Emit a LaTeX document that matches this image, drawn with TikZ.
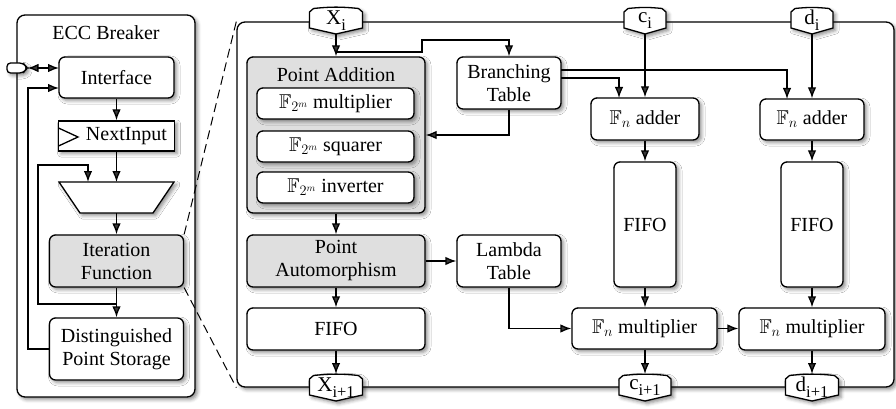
\documentclass[tikz,border=0pt]{standalone}
\usepackage{amssymb}
\usepackage{fontspec}
\setmainfont{Liberation Serif}
\usetikzlibrary{arrows.meta,shadows.blur}

\definecolor{boxgray}{gray}{0.875}

% lowered index for port labels
\newcommand\lowidx[1]{\raisebox{-0.6ex}{\fontsize{16.5}{16.5}\selectfont #1}}

% port: name, x, top y, half width, label
\newcommand\portshape[5]{%
  \draw[portline] ({#2-#4},{#3+21}) -- ({#2-#4},{#3+5}) -- ({#2-#4+4},{#3+1.5})
    to[bend left=6] ({#2+#4-4},{#3+1.5}) -- ({#2+#4},{#3+5}) -- ({#2+#4},{#3+21})
    -- (#2,{#3+27}) -- cycle;
  \node[inner sep=0pt,font=\fontsize{21}{22}\selectfont] (#1) at (#2,{#3+13.5}) {#5};
  \coordinate (#1-tip) at (#2,{#3+27});
  \coordinate (#1-top) at (#2,{#3});
}

\tikzset{
  >={Latex[length=11pt,width=8.5pt]},
  wire/.style={line width=1.3pt,->},
  shade3/.style={blur shadow={shadow xshift=2.5pt,shadow yshift=-2.5pt,
      shadow blur radius=3.5pt,shadow opacity=45}},
  box/.style={draw,line width=1.3pt,rounded corners=6pt,fill=white,shade3,
      inner sep=0pt,align=center},
  gbox/.style={box,fill=boxgray},
  sqbox/.style={box,rounded corners=0pt},
  panel/.style={draw,line width=1.3pt,rounded corners=8pt,fill=white,shade3,inner sep=0pt},
  portline/.style={draw,line width=1.3pt,fill=white,shade3},
  dashline/.style={line width=1pt,dash pattern=on 9pt off 5pt},
}

\begin{document}
\begin{tikzpicture}[x=1pt,y=-1pt,font=\fontsize{20}{23}\selectfont]
\useasboundingbox (0,0) rectangle (896,409);

% ---------------- ECC Breaker ----------------
\node[panel,minimum width=178pt,minimum height=382pt] (ecc) at (106,206) {};
\node (ecctitle) at (106,33) {ECC Breaker};

\node[box,minimum width=115pt,minimum height=41pt] (iface) at (116.5,77.5) {Interface};
\node[sqbox,minimum width=116pt,minimum height=30pt] (nxt) at (116.5,136) {};
\node[inner sep=0pt] (nxtlabel) at (126.5,136) {NextInput};
\draw[line width=1.3pt] (58.5,128) -- (78,137) -- (58.5,146);

\draw[line width=1.3pt,fill=white,shade3] (59,182) -- (174,182) -- (153,213) -- (80,213) -- cycle;
\coordinate (mux) at (116.5,197);
\coordinate (muxtopR) at (116.5,182);
\coordinate (muxtopL) at (88,182);
\coordinate (muxbot) at (116.5,213);

\node[gbox,minimum width=134pt,minimum height=52pt] (itf) at (116.5,261) {Iteration\\Function};
\node[box,minimum width=134pt,minimum height=62pt] (dps) at (116.5,349) {Distinguished\\Point Storage};

% host port
\draw[line width=1.3pt,fill=white,shade3,rounded corners=3.5pt]
  (27.5,68) -- (23,63) -- (7,63) -- (7,73) -- (23,73) -- cycle;
\coordinate (hostport) at (27.5,68);
\coordinate (ifio) at (59,68);
\coordinate (ifin) at (59,88);
\coordinate (fbk) at (116.5,304);

\draw[line width=1.3pt,<->] (hostport) -- (ifio);
\draw[wire] (iface.south) -- (nxt.north);
\draw[wire] (nxt.south) -- (muxtopR);
\draw[wire] (muxbot) -- (itf.north);
\draw[wire] (itf.south) -- (dps.north);
\draw[wire] (fbk) -| (38,165) -| (muxtopL);
\draw[wire] (dps.west) -| (28,88) -- (ifin);

% ---------------- Iteration function core ----------------
\node[panel,minimum width=657pt,minimum height=365pt] (core) at (565.5,204.5) {};

\draw[dashline] (itf.north east) -- (core.north west);
\draw[dashline] (itf.south east) -- (core.south west);

\portshape{xin}{336}{7}{26.5}{X\lowidx{i}}
\portshape{cin}{645}{7}{21}{c\lowidx{i}}
\portshape{din}{812}{7}{21}{d\lowidx{i}}
\portshape{xout}{336}{374}{26.5}{X\lowidx{i+1}}
\portshape{cout}{645}{374}{26}{c\lowidx{i+1}}
\portshape{dout}{812}{374}{26.5}{d\lowidx{i+1}}

\node[gbox,minimum width=178pt,minimum height=156pt] (padd) at (336,135) {};
\node (paddtitle) at (336,75) {Point Addition};
\node[box,minimum width=157pt,minimum height=31pt] (mul2) at (335.5,103.5) {$\mathbb{F}_{2^m}$ multiplier};
\node[box,minimum width=157pt,minimum height=31pt] (sq2) at (335.5,146.5) {$\mathbb{F}_{2^m}$ squarer};
\node[box,minimum width=157pt,minimum height=31pt] (inv2) at (335.5,187.5) {$\mathbb{F}_{2^m}$ inverter};

\node[gbox,minimum width=178pt,minimum height=52pt] (pauto) at (336,261) {Point\\Automorphism};
\node[box,minimum width=178pt,minimum height=42pt] (fifol) at (336,329) {FIFO};

\node[box,minimum width=104pt,minimum height=52pt] (bt) at (509,83) {Branching\\Table};
\node[box,minimum width=104pt,minimum height=52pt] (lt) at (509,261) {Lambda\\Table};

\node[box,minimum width=108pt,minimum height=42pt] (addc) at (645,119) {$\mathbb{F}_n$ adder};
\node[box,minimum width=104pt,minimum height=41pt] (addd) at (812,119.5) {$\mathbb{F}_n$ adder};
\node[box,minimum width=62pt,minimum height=125pt] (fifoc) at (645,224.5) {FIFO};
\node[box,minimum width=62pt,minimum height=125pt] (fifod) at (812,224.5) {FIFO};
\node[box,minimum width=145pt,minimum height=41pt] (mulc) at (644.5,328.5) {$\mathbb{F}_n$ multiplier};
\node[box,minimum width=146pt,minimum height=42pt] (muld) at (812,329) {$\mathbb{F}_n$ multiplier};

\coordinate (xsplit) at (336,52);
\coordinate (btA) at (561,70);
\coordinate (btB) at (561,78);
\coordinate (adddin) at (787,99);
\coordinate (addcin) at (619,98);

\draw[wire] (xin-tip) -- (padd.north);
\draw[wire] (xsplit) -- (422,52) -- (422,40) -| (bt.north);
\draw[wire] (bt.south) |- (padd.east);
\draw[wire] (btA) -| (adddin);
\draw[wire] (btB) -| (addcin);
\draw[wire] (cin-tip) -- (addc.north);
\draw[wire] (din-tip) -- (addd.north);
\draw[wire] (addc.south) -- (fifoc.north);
\draw[wire] (addd.south) -- (fifod.north);
\draw[wire] (fifoc.south) -- (mulc.north -| fifoc.south);
\draw[wire] (fifod.south) -- (muld.north);
\draw[wire] (mulc.south -| cout-top) -- (cout-top);
\draw[wire] (muld.south) -- (dout-top);
\draw[wire] (mulc.east) -- (muld.west |- mulc.east);
\draw[wire] (lt.south) |- (mulc.west);
\draw[wire] (pauto.east) -- (lt.west);
\draw[wire] (padd.south) -- (pauto.north);
\draw[wire] (pauto.south) -- (fifol.north);
\draw[wire] (fifol.south) -- (xout-top);
\end{tikzpicture}
\end{document}
